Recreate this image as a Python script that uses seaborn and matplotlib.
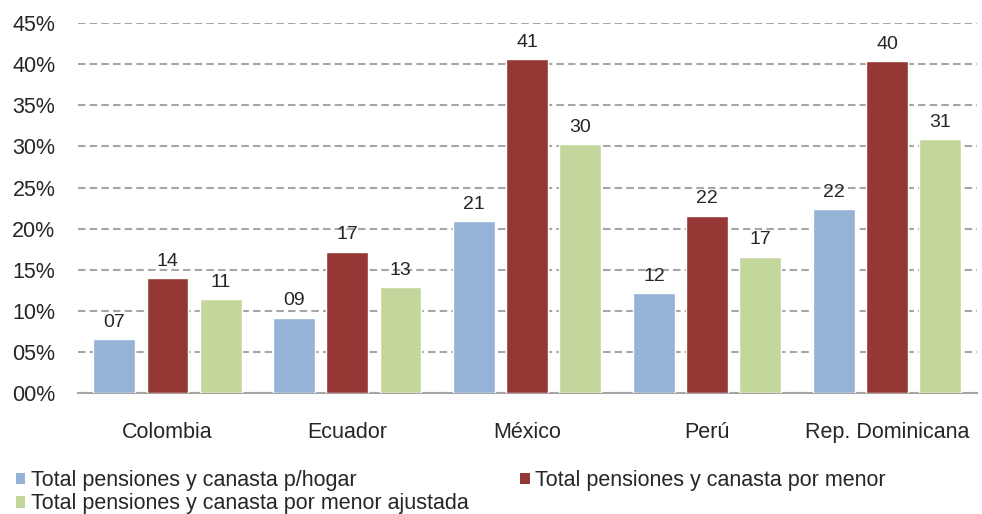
import matplotlib
matplotlib.use("Agg")
import matplotlib.pyplot as plt
from matplotlib.patches import Patch
from matplotlib.ticker import FuncFormatter, MultipleLocator
import pandas as pd
import seaborn as sns

# Países y series (porcentajes)
paises = ["Colombia", "Ecuador", "México", "Perú", "Rep. Dominicana"]
series = [
    "Total pensiones y canasta p/hogar",
    "Total pensiones y canasta por menor",
    "Total pensiones y canasta por menor ajustada",
]
por_hogar = [6.6, 9.2, 20.9, 12.2, 22.4]
por_menor = [14.0, 17.2, 40.6, 21.6, 40.4]
por_menor_ajustada = [11.4, 12.9, 30.3, 16.6, 30.9]
colores = ["#95B3D7", "#953735", "#C3D69B"]

valores = [por_hogar, por_menor, por_menor_ajustada]
df = pd.DataFrame(
    [(p, s, v) for s, vals in zip(series, valores) for p, v in zip(paises, vals)],
    columns=["pais", "serie", "valor"],
)

sns.set_theme(style="white")
plt.rcParams["font.family"] = ["Liberation Sans", "DejaVu Sans"]

fig = plt.figure(figsize=(9.82, 5.14), dpi=100)
ax = fig.add_axes([0.079, 0.235, 0.916, 0.72])

sns.barplot(
    data=df, x="pais", y="valor", hue="serie",
    order=paises, hue_order=series, palette=colores,
    width=0.885, gap=0.21, dodge=True, errorbar=None,
    saturation=1, ax=ax, legend=False, zorder=3,
)

# Etiquetas de valor sobre cada barra
for cont, vals in zip(ax.containers, valores):
    ax.bar_label(cont, labels=[f"{v:02.0f}" for v in vals],
                 padding=6, fontsize=14, color="#262626")

ax.set_ylim(0, 45)
ax.set_xlim(-0.5, len(paises) - 0.5)
ax.yaxis.set_major_locator(MultipleLocator(5))
ax.yaxis.set_major_formatter(FuncFormatter(lambda v, _: f"{v:02.0f}%"))
ax.grid(axis="y", color="#a6a6a6", linestyle=(0, (3.6, 2.0)), linewidth=1.5, zorder=0)
ax.set_axisbelow(True)

for side in ["top", "right", "left"]:
    ax.spines[side].set_visible(False)
ax.spines["bottom"].set_color("#a6a6a6")
ax.spines["bottom"].set_linewidth(1.5)

ax.tick_params(axis="y", length=0, pad=16, labelsize=15.5, labelcolor="#262626")
ax.tick_params(axis="x", length=0, pad=21, labelsize=15.5, labelcolor="#262626")
ax.set_xlabel("")
ax.set_ylabel("")

handles = [Patch(facecolor=c, edgecolor="none") for c in colores]
orden = [0, 2, 1]
fig.legend(
    [handles[i] for i in orden], [series[i] for i in orden],
    ncol=2, loc="upper left", bbox_to_anchor=(0.016, 0.085),
    frameon=False, fontsize=15.5, handlelength=0.45, handleheight=0.45,
    handletextpad=0.25, columnspacing=2.4, labelspacing=0.1,
    borderaxespad=0, borderpad=0, labelcolor="#262626",
)

fig.savefig("out.png", dpi=100)
